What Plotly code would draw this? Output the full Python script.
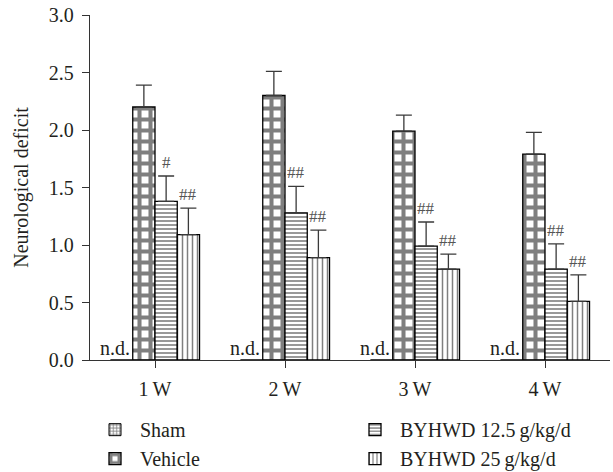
import plotly.graph_objects as go

weeks = ["1\u2009W", "2\u2009W", "3\u2009W", "4\u2009W"]
sham = [0, 0, 0, 0]
vehicle = [2.2, 2.3, 1.99, 1.79]
vehicle_err = [0.19, 0.21, 0.14, 0.19]
byhwd125 = [1.38, 1.28, 0.99, 0.79]
byhwd125_err = [0.22, 0.23, 0.21, 0.22]
byhwd25 = [1.09, 0.89, 0.79, 0.51]
byhwd25_err = [0.23, 0.24, 0.13, 0.23]
marks125 = ["#", "##", "##", "##"]
marks25 = ["##", "##", "##", "##"]
nd_labels = ["n.d.", "n.d.", "n.d.", "n.d."]

FONT = "Liberation Serif"
TXT = "#231f20"
ERRC = "#3a3a3a"

def err(vals):
    return dict(type="data", array=vals, arrayminus=[0] * len(vals), symmetric=False,
                color=ERRC, thickness=1.3, width=8)

fig = go.Figure()
fig.add_trace(go.Bar(
    x=weeks, y=sham, name="Sham", legend="legend",
    marker=dict(color="white", line=dict(color="black", width=1),
                pattern=dict(shape="+", fgcolor="black", bgcolor="white", size=4, solidity=0.5)),
))
fig.add_trace(go.Bar(
    x=weeks, y=vehicle, name="Vehicle", legend="legend", error_y=err(vehicle_err),
    marker=dict(color="white", line=dict(color="black", width=1.3),
                pattern=dict(shape="+", fgcolor="black", bgcolor="white", size=11, solidity=0.6)),
))
fig.add_trace(go.Bar(
    x=weeks, y=byhwd125, name="BYHWD 12.5\u2009g/kg/d", legend="legend2", error_y=err(byhwd125_err),
    marker=dict(color="white", line=dict(color="black", width=1.3),
                pattern=dict(shape="-", fgcolor="black", bgcolor="white", size=4, solidity=0.4)),
))
fig.add_trace(go.Bar(
    x=weeks, y=byhwd25, name="BYHWD 25\u2009g/kg/d", legend="legend2", error_y=err(byhwd25_err),
    marker=dict(color="white", line=dict(color="black", width=1.3),
                pattern=dict(shape="|", fgcolor="black", bgcolor="white", size=5, solidity=0.3)),
))

annotations = []
for i in range(len(weeks)):
    annotations.append(dict(x=i - 0.31, y=0, xref="x", yref="y", text=nd_labels[i],
                            showarrow=False, yanchor="bottom", yshift=-1,
                            font=dict(family=FONT, size=20, color=TXT)))
    annotations.append(dict(x=i + 0.085, y=byhwd125[i] + byhwd125_err[i], xref="x", yref="y",
                            text=marks125[i], showarrow=False, yanchor="bottom", yshift=2,
                            font=dict(family=FONT, size=17, color="#555")))
    annotations.append(dict(x=i + 0.255, y=byhwd25[i] + byhwd25_err[i], xref="x", yref="y",
                            text=marks25[i], showarrow=False, yanchor="bottom", yshift=2,
                            font=dict(family=FONT, size=17, color="#555")))

legend_common = dict(yref="container", y=0.131, xanchor="left", yanchor="top", orientation="v",
                     font=dict(family=FONT, size=20, color=TXT), bgcolor="rgba(0,0,0,0)",
                     tracegroupgap=0, itemwidth=40)

fig.update_layout(
    width=613, height=472,
    margin=dict(l=90, r=3, t=15, b=112, autoexpand=False),
    plot_bgcolor="white", paper_bgcolor="white",
    barmode="group", bargap=0.315, bargroupgap=0,
    font=dict(family=FONT, size=20, color=TXT),
    annotations=annotations,
    xaxis=dict(range=[-0.5, 3.5], showline=True, linecolor="#333", linewidth=1.3,
               ticks="outside", ticklen=7, tickcolor="#333", tickwidth=1.3, ticklabelstandoff=4,
               tickfont=dict(family=FONT, size=20, color=TXT), showgrid=False, zeroline=False),
    yaxis=dict(range=[0, 3.0], dtick=0.5, tickformat=".1f", showline=True, linecolor="#333",
               linewidth=1.3, ticks="outside", ticklen=7, tickcolor="#333", tickwidth=1.3,
               ticklabelstandoff=4,
               tickfont=dict(family=FONT, size=20, color=TXT), showgrid=False, zeroline=False,
               title=dict(text="Neurological deficit", font=dict(family=FONT, size=20, color=TXT),
                          standoff=14)),
    legend=dict(x=0.0, **legend_common),
    legend2=dict(x=0.5, **legend_common),
)
for i, tr in enumerate(fig.data):
    tr.legendgroup = "g%d" % i

fig.write_html("out.html")
